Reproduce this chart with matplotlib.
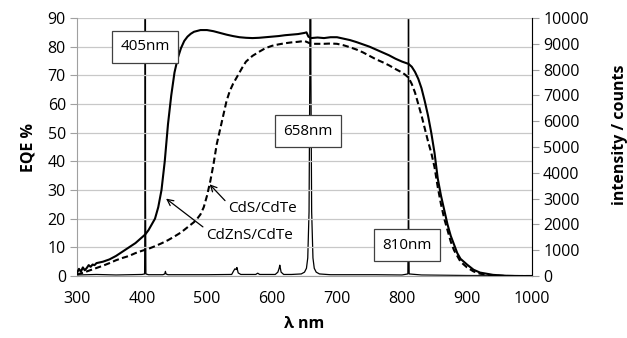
import matplotlib
matplotlib.use("Agg")
import matplotlib.pyplot as plt

plt.rcParams['font.family'] = ['Open Sans', 'DejaVu Sans']

# CdZnS/CdTe EQE (solid)
wl_zns = [300, 303, 306, 309, 312, 315, 318, 321, 324, 327, 330, 340, 350, 360, 370, 380, 390, 400, 405,
          410, 415, 420, 425, 430, 435, 440, 445, 450, 455, 460, 465, 470, 475, 480, 490, 500, 510, 520,
          530, 540, 550, 560, 570, 580, 590, 600, 610, 620, 630, 640, 645, 650, 653, 656, 660, 670, 680,
          690, 700, 710, 720, 730, 740, 750, 760, 770, 780, 790, 800, 805, 810, 815, 820, 825, 830, 835,
          840, 845, 850, 855, 860, 865, 870, 875, 880, 885, 890, 900, 910, 920, 940, 960, 980, 1000]
eqe_zns = [1.0, 2.5, 1.5, 3.0, 2.0, 2.8, 3.8, 3.2, 4.0, 3.8, 4.5, 5.0, 5.8, 7.0, 8.5, 10.0, 11.5, 13.5, 14.5,
           16.0, 18.0, 20.0, 24.0, 30.0, 40.0, 53.0, 63.0, 71.0, 76.0, 79.5, 82.0, 83.5, 84.5, 85.2, 85.8, 85.8,
           85.4, 84.8, 84.2, 83.7, 83.3, 83.1, 83.0, 83.1, 83.3, 83.5, 83.7, 84.0, 84.2, 84.4, 84.6, 84.8,
           85.0, 83.5, 83.0, 83.2, 83.0, 83.3, 83.3, 82.8, 82.3, 81.6, 80.8, 80.0, 79.0, 78.0, 77.0, 75.8,
           74.8, 74.4, 74.0, 73.0, 71.2, 68.8, 65.5, 61.0, 56.0, 50.0, 43.0, 34.0, 28.0, 23.0, 18.0, 14.0,
           11.0, 8.0, 6.0, 4.0, 2.2, 1.2, 0.4, 0.1, 0.0, 0.0]

# CdS/CdTe EQE (dashed)
wl_cds = [300, 310, 320, 330, 340, 350, 360, 370, 380, 390, 400, 410, 420, 430, 440, 450, 460, 470, 480,
          485, 490, 495, 500, 505, 510, 515, 520, 525, 530, 535, 540, 545, 550, 555, 560, 570, 580, 590,
          600, 610, 620, 630, 640, 650, 655, 660, 670, 680, 690, 700, 710, 720, 730, 740, 750, 760, 770,
          780, 790, 800, 805, 810, 815, 820, 825, 830, 835, 840, 845, 850, 855, 860, 865, 870, 875, 880,
          885, 890, 900, 910, 920, 940, 960, 1000]
eqe_cds = [0.5, 1.2, 2.0, 2.8, 3.6, 4.5, 5.5, 6.3, 7.0, 8.0, 8.8, 9.5, 10.4, 11.4, 12.5, 13.8, 15.2, 17.0,
           18.8, 20.0, 21.5, 24.0, 28.0, 33.0, 39.0, 46.0, 51.0, 56.0, 61.0, 64.5, 67.0, 69.0, 71.0, 73.0,
           74.8, 76.8, 78.2, 79.5, 80.3, 80.8, 81.2, 81.5, 81.7, 82.0, 81.5, 81.0, 81.0, 81.0, 81.1, 81.0,
           80.5, 79.8, 79.0, 78.0, 76.8, 75.6, 74.6, 73.5, 72.2, 71.0, 70.2, 69.2, 67.0, 64.0, 60.0, 56.0,
           51.5, 47.0, 43.0, 38.0, 31.0, 25.0, 20.0, 16.0, 12.0, 9.0, 7.0, 5.0, 3.0, 1.6, 0.8, 0.2, 0.0, 0.0]

# Light source spectrum (right axis, counts)
wl_spec = [300, 330, 360, 400, 404, 404.6, 405, 405.4, 406, 410, 432, 435, 436, 437, 440, 500, 538, 541, 543,
           545, 546, 548, 552, 575, 578, 581, 605, 609, 611, 612, 614, 618, 630, 645, 650, 653, 655, 657,
           658.2, 659, 659.8, 661, 663, 665, 668, 673, 690, 760, 800, 809, 809.6, 810, 810.4, 811, 830, 900, 1000]
cnt_spec = [40, 60, 40, 60, 80, 3000, 40000, 3000, 80, 50, 50, 80, 180, 80, 50, 50, 60, 200, 280,
            250, 330, 120, 60, 60, 110, 60, 60, 150, 300, 420, 150, 60, 60, 80, 150, 300, 700, 2500,
            8000, 40000, 8000, 2500, 700, 300, 150, 80, 50, 50, 40, 80, 2000, 40000, 2000, 80, 40, 20, 10]

x_ticks = [300, 400, 500, 600, 700, 800, 900, 1000]
eqe_ticks = [0, 10, 20, 30, 40, 50, 60, 70, 80, 90]
cnt_ticks = [0, 1000, 2000, 3000, 4000, 5000, 6000, 7000, 8000, 9000, 10000]

fig = plt.figure(figsize=(6.27, 3.38), dpi=100)
ax = fig.add_axes([0.1228, 0.1834, 0.7257, 0.7633])
ax2 = ax.twinx()

ax.set_xlim(300, 1000)
ax.set_ylim(0, 90)
ax2.set_ylim(0, 10000)
ax.set_xticks(x_ticks)
ax.set_yticks(eqe_ticks)
ax2.set_yticks(cnt_ticks)

ax.grid(axis='y', color='#c8c8c8', linewidth=0.9)
ax.set_axisbelow(True)
for sp in ['top']:
    ax.spines[sp].set_visible(False)
    ax2.spines[sp].set_visible(False)
ax2.spines['left'].set_visible(False)
ax2.spines['bottom'].set_visible(False)
ax.spines['left'].set_color('#a0a0a0')
ax2.spines['right'].set_color('#a0a0a0')
ax.spines['bottom'].set_color('#a0a0a0')

ax.tick_params(axis='y', length=5, color='#a0a0a0', labelsize=11.5, pad=3)
ax.tick_params(axis='x', length=0, labelsize=11.5, pad=11)
ax2.tick_params(axis='y', length=5, color='#a0a0a0', labelsize=11.5, pad=3)

ax2.plot(wl_spec, cnt_spec, color='black', linewidth=0.9, zorder=2)
ax.plot(wl_zns, eqe_zns, color='black', linewidth=1.5, zorder=3)
ax.plot(wl_cds, eqe_cds, color='black', linewidth=1.5, linestyle=(0, (3, 1.6)), zorder=3)
ax.set_zorder(ax2.get_zorder() + 1)
ax.patch.set_visible(False)

box = dict(boxstyle='square,pad=0.55', facecolor='white', edgecolor='#404040', linewidth=0.9)
ax.text(405, 80, '405nm', ha='center', va='center', fontsize=11, bbox=box, zorder=5)
ax.text(655, 50.5, '658nm', ha='center', va='center', fontsize=11, bbox=box, zorder=5)
ax.text(808, 10.8, '810nm', ha='center', va='center', fontsize=11, bbox=box, zorder=5)

ax.annotate('CdS/CdTe', xy=(504, 32), xytext=(532, 23.7), fontsize=11, va='center', ha='left',
            arrowprops=dict(arrowstyle='->', color='black', lw=0.9, shrinkA=0, shrinkB=0,
                            relpos=(0, 0.8)), zorder=5)
ax.annotate('CdZnS/CdTe', xy=(437, 27), xytext=(498, 14.3), fontsize=11, va='center', ha='left',
            arrowprops=dict(arrowstyle='->', color='black', lw=0.9, shrinkA=0, shrinkB=0,
                            relpos=(0, 0.9)), zorder=5)

ax.set_ylabel('EQE %', fontsize=11.5, fontweight='bold', labelpad=8)
ax2.set_ylabel('intensity / counts', fontsize=11.5, fontweight='bold')
ax2.yaxis.set_label_coords(1.176, 0.547)
ax.set_xlabel('λ nm', fontsize=11.5, fontweight='bold', labelpad=6)

fig.savefig('out.png', dpi=100)
